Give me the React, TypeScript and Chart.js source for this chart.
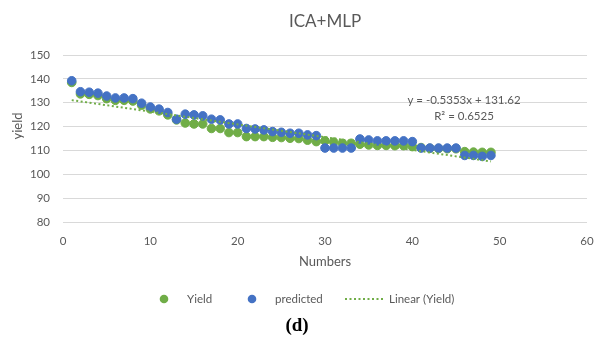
import React, { useEffect, useRef } from "react";
import { Chart, registerables } from "chart.js";

Chart.register(...registerables);

const numbers = [
  1, 2, 3, 4, 5, 6, 7, 8, 9, 10, 11, 12, 13, 14, 15, 16, 17, 18, 19, 20, 21, 22, 23, 24, 25,
  26, 27, 28, 29, 30, 31, 32, 33, 34, 35, 36, 37, 38, 39, 40, 41, 42, 43, 44, 45, 46, 47, 48, 49,
];

const yieldValues = [
  138.5, 133.7, 133.5, 133.0, 131.7, 131.0, 131.0, 130.7, 129.0, 127.4,
  126.6, 124.9, 122.8, 121.5, 121.1, 121.1, 119.2, 119.2, 117.5, 117.5,
  115.8, 115.8, 115.8, 115.5, 115.4, 115.1, 115.0, 114.3, 113.7, 114.0,
  113.5, 113.0, 113.0, 112.6, 112.3, 112.1, 112.1, 112.0, 112.0, 111.6,
  111.2, 110.9, 110.8, 110.7, 110.7, 109.5, 109.3, 109.2, 109.2,
];

const predictedValues = [
  139.2, 134.6, 134.4, 134.0, 132.8, 132.0, 132.0, 131.7, 129.8, 128.2,
  127.3, 125.9, 123.1, 125.2, 124.9, 124.5, 123.1, 122.8, 121.1, 121.1,
  119.2, 119.0, 118.6, 117.9, 117.6, 117.2, 117.2, 116.5, 116.2, 111.0,
  111.0, 111.0, 111.0, 114.8, 114.4, 114.0, 114.0, 114.0, 114.0, 113.7,
  111.0, 111.0, 111.0, 111.0, 111.0, 107.9, 107.9, 107.5, 107.9,
];

const trendSlope = -0.5353;
const trendIntercept = 131.62;
const equationLines = ["y = -0.5353x + 131.62", "R² = 0.6525"];

const chartTitle = "ICA+MLP";
const xAxisTitle = "Numbers";
const yAxisTitle = "yield";
const legendLabels = ["Yield", "predicted", "Linear (Yield)"];
const panelLabel = "(d)";

const GREEN = "#70AD47";
const BLUE = "#4472C4";
const TEXT = "#595959";
const FONT = "Lato";

const trendX = [numbers[0], numbers[numbers.length - 1]];

const decorPlugin = {
  id: "decor",
  afterDraw(chart: any) {
    const { ctx, chartArea } = chart;
    const cx = (chartArea.left + chartArea.right) / 2;
    ctx.save();
    // title
    ctx.fillStyle = TEXT;
    ctx.textAlign = "center";
    ctx.textBaseline = "middle";
    ctx.font = `17px ${FONT}`;
    ctx.fillText(chartTitle, cx, 22);

    // y axis title
    ctx.save();
    ctx.translate(18, 126);
    ctx.rotate(-Math.PI / 2);
    ctx.font = `13px ${FONT}`;
    ctx.fillText(yAxisTitle, 0, 0);
    ctx.restore();

    // equation
    ctx.font = `11.5px ${FONT}`;
    ctx.fillText(equationLines[0], 464, 100);
    ctx.fillText(equationLines[1], 464, 116);

    // legend
    const ly = 299;
    ctx.textAlign = "left";
    ctx.font = `11.5px ${FONT}`;
    ctx.fillStyle = GREEN;
    ctx.beginPath();
    ctx.arc(164, ly, 4.3, 0, Math.PI * 2);
    ctx.fill();
    ctx.fillStyle = TEXT;
    ctx.fillText(legendLabels[0], 187, ly);
    ctx.fillStyle = BLUE;
    ctx.beginPath();
    ctx.arc(252, ly, 4.3, 0, Math.PI * 2);
    ctx.fill();
    ctx.fillStyle = TEXT;
    ctx.fillText(legendLabels[1], 275, ly);
    ctx.strokeStyle = GREEN;
    ctx.lineWidth = 2;
    ctx.setLineDash([2, 2.5]);
    ctx.beginPath();
    ctx.moveTo(345, ly);
    ctx.lineTo(385, ly);
    ctx.stroke();
    ctx.setLineDash([]);
    ctx.fillStyle = TEXT;
    ctx.fillText(legendLabels[2], 389, ly);

    // panel label
    ctx.textAlign = "center";
    ctx.fillStyle = "#000000";
    ctx.font = `bold 19px "Liberation Serif"`;
    ctx.fillText(panelLabel, 297, 326);
    ctx.restore();
  },
};

export default function App() {
  const ref = useRef<HTMLCanvasElement | null>(null);

  useEffect(() => {
    document.body.style.margin = "0";
    const canvas = ref.current;
    if (!canvas) return;
    const chart = new Chart(canvas, {
      type: "scatter",
      data: {
        datasets: [
          {
            label: legendLabels[2],
            data: trendX.map((x) => ({ x, y: trendSlope * x + trendIntercept })),
            showLine: true,
            borderColor: GREEN,
            borderWidth: 2,
            borderDash: [2, 2.5],
            pointRadius: 0,
            order: 0,
          },
          {
            label: legendLabels[1],
            data: numbers.map((x, i) => ({ x, y: predictedValues[i] })),
            backgroundColor: BLUE,
            borderColor: BLUE,
            borderWidth: 1,
            pointRadius: 4.3,
            order: 1,
          },
          {
            label: legendLabels[0],
            data: numbers.map((x, i) => ({ x, y: yieldValues[i] })),
            backgroundColor: GREEN,
            borderColor: GREEN,
            borderWidth: 1,
            pointRadius: 4.3,
            order: 2,
          },
        ] as any,
      },
      options: {
        animation: false,
        responsive: false,
        layout: { padding: { top: 55, right: 13, left: 0, bottom: 0 } },
        plugins: {
          legend: { display: false },
          title: { display: false },
          tooltip: { enabled: false },
        },
        scales: {
          x: {
            type: "linear",
            min: 0,
            max: 60,
            ticks: { stepSize: 10, color: TEXT, font: { family: FONT, size: 11.5 }, padding: 12 },
            grid: { display: false, drawTicks: false },
            border: { display: false },
            title: {
              display: true,
              text: xAxisTitle,
              color: TEXT,
              font: { family: FONT, size: 13 },
              padding: { top: 0, bottom: 79 },
            },
            afterFit: (s: any) => {
              s.height = 127;
              s.paddingLeft = 0;
              s.paddingRight = 0;
            },
          },
          y: {
            type: "linear",
            min: 80,
            max: 150,
            ticks: { stepSize: 10, color: TEXT, font: { family: FONT, size: 11.5 }, padding: 13 },
            grid: { color: "#d9d9d9", lineWidth: 1, drawTicks: false },
            border: { display: false },
            afterFit: (s: any) => {
              s.width = 63;
            },
          },
        },
      } as any,
      plugins: [decorPlugin],
    });
    return () => chart.destroy();
  }, []);

  return (
    <div style={{ position: "absolute", left: 0, top: 0, width: 600, height: 349, background: "#fff" }}>
      <canvas ref={ref} width={600} height={349} style={{ display: "block" }} />
    </div>
  );
}
